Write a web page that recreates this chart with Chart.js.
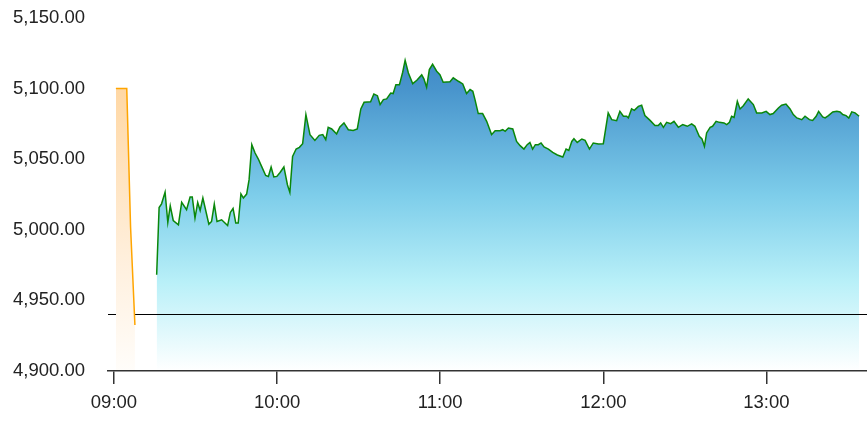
<!DOCTYPE html>
<html>
<head>
<meta charset="utf-8">
<script src="https://cdn.jsdelivr.net/npm/chart.js@4/dist/chart.umd.min.js"></script>
<style>
  html, body { margin: 0; padding: 0; background: #fff; }
  #wrap { width: 867px; height: 432px; position: relative; }
</style>
</head>
<body>
<div id="wrap"><canvas id="chart"></canvas></div>
<script>
// x values are minutes after 09:00
const X_MIN = -2.2, X_MAX = 277;
const X_TICKS = [0, 60, 120, 180, 240];
const X_TICK_LABELS = ['09:00', '10:00', '11:00', '12:00', '13:00'];
const Y_TICKS = [4900, 4950, 5000, 5050, 5100, 5150];
const REF_LEVEL = 4940;

// pre-open (orange)
const PRE_MINUTES = [0.7, 4.7, 6.1, 7.7];
const PRE_PRICES  = [5100, 5100, 5002, 4932.6];

// session (green)
const MINUTES = [
  15.7,16.6,17.5,18.8,19.8,20.7,21.8,23.7,24.9,26.7,28.0,28.8,29.8,30.8,31.7,32.7,34.9,35.9,36.9,37.9,
  39.6,41.8,42.8,43.8,44.8,45.7,46.7,47.6,48.8,49.7,50.7,51.9,53.1,54.3,55.8,56.8,57.8,58.8,59.9,61.1,
  62.5,63.8,64.7,65.7,67.0,68.2,69.4,70.6,72.1,73.9,75.5,76.8,77.9,78.8,80.1,81.9,83.1,84.6,86.2,88.0,
  89.5,90.8,92.0,94.4,95.6,96.9,97.9,99.1,100.3,101.8,102.7,103.7,105.0,106.2,107.1,108.3,109.9,111.4,113.2,114.0,
  115.0,116.0,117.2,118.7,119.9,121.1,123.6,124.8,126.7,128.3,129.7,131.0,132.0,132.8,134.0,135.6,137.1,138.9,140.2,142.0,
  143.0,143.9,145.1,146.7,148.1,149.4,150.8,152.0,153.0,154.0,155.0,156.1,157.1,158.2,159.8,161.4,163.1,165.1,166.3,167.3,
  168.4,169.2,170.4,172.1,173.3,174.9,176.3,178.2,180.0,181.8,183.1,184.9,186.1,187.4,188.6,189.2,190.4,191.4,192.9,194.1,
  195.3,197.2,199.0,200.2,201.1,202.1,203.3,204.8,206.0,207.6,209.2,210.9,212.5,213.7,215.3,216.3,217.2,218.0,219.3,220.2,
  221.5,222.7,224.4,225.4,226.4,227.2,228.1,229.3,230.3,231.5,233.3,235.2,236.4,238.3,239.9,241.3,242.5,244.4,245.6,247.2,
  248.7,249.9,251.2,253.0,254.2,255.8,257.0,258.3,259.2,260.7,261.6,262.8,264.4,265.9,267.1,268.1,269.3,270.3,271.4,272.6,
  274.1
];
const PRICES = [
  4968.1,5015.8,5018.4,5026.7,5005.2,5017.0,5006.6,5003.5,5019.4,5014.2,5023.2,5023.2,5008.3,5019.4,5013.7,5022.5,5004.0,5005.9,5018.2,5005.9,
  5007.1,5003.0,5012.3,5015.1,5004.8,5004.8,5025.5,5022.5,5025.3,5035.5,5060.3,5054.4,5050.1,5044.9,5038.5,5037.8,5044.5,5037.4,5037.8,5040.6,
  5044.5,5031.9,5026.5,5052.0,5057.2,5058.4,5061.0,5081.6,5067.4,5063.3,5066.9,5067.4,5063.8,5072.6,5071.4,5067.9,5072.8,5075.7,5070.9,5070.4,
  5071.4,5085.6,5090.3,5090.6,5096.2,5095.0,5088.7,5092.2,5092.7,5096.9,5096.5,5102.8,5102.8,5111.6,5120.1,5111.1,5103.5,5105.9,5109.7,5106.9,
  5100.9,5113.5,5117.2,5112.3,5109.9,5104.5,5104.8,5107.6,5105.2,5103.3,5096.5,5099.3,5098.1,5092.2,5082.3,5082.3,5076.8,5067.4,5070.2,5070.2,
  5070.9,5069.7,5072.1,5071.4,5062.6,5059.6,5057.2,5060.3,5061.9,5057.2,5060.3,5060.3,5061.5,5058.7,5057.2,5054.8,5053.0,5051.6,5057.2,5056.2,
  5062.6,5064.5,5061.9,5064.3,5063.3,5057.2,5061.5,5060.8,5061.0,5082.8,5078.0,5077.3,5083.9,5080.4,5080.4,5079.2,5085.6,5084.6,5087.4,5088.2,
  5080.9,5077.5,5073.8,5073.8,5075.7,5072.6,5076.1,5075.2,5076.8,5072.6,5074.5,5073.3,5075.0,5073.3,5066.2,5064.3,5059.1,5068.6,5072.6,5073.3,
  5076.8,5076.1,5075.7,5074.5,5076.1,5080.4,5079.6,5091.0,5085.6,5087.9,5092.7,5088.7,5082.8,5082.8,5083.9,5081.6,5082.3,5086.3,5088.2,5089.1,
  5085.6,5081.6,5079.2,5078.0,5080.4,5078.0,5077.5,5080.4,5083.9,5079.9,5079.2,5080.9,5083.5,5083.9,5083.5,5081.6,5080.9,5079.2,5083.5,5082.8,
  5080.4
];

const FONT = { family: '"Liberation Sans", Arial, sans-serif', size: 18.5 };

function vGradient(stops) {
  return (ctx) => {
    const { chart } = ctx;
    const area = chart.chartArea;
    if (!area) return null;
    const g = chart.ctx.createLinearGradient(0, area.top, 0, area.bottom);
    stops.forEach(([p, c]) => g.addColorStop(p, c));
    return g;
  };
}

const toPts = (xs, ys) => xs.map((x, i) => ({ x, y: ys[i] }));

new Chart(document.getElementById('chart'), {
  type: 'line',
  data: {
    datasets: [
      { label: 'pre', data: toPts(PRE_MINUTES, PRE_PRICES), order: 0,
        borderColor: '#ffa500', borderWidth: 1.5, pointRadius: 0, tension: 0, fill: 'start',
        backgroundColor: vGradient([[0, 'rgba(255,205,140,1)'], [0.25, 'rgba(255,218,170,1)'], [0.7, 'rgba(255,240,222,1)'], [1, 'rgba(255,253,250,1)']]) },
      { label: 'ref', data: [{ x: X_MIN, y: REF_LEVEL }, { x: X_MAX, y: REF_LEVEL }], order: 1,
        borderColor: '#000', borderWidth: 1.2, pointRadius: 0, fill: false },
      { label: 'price', data: toPts(MINUTES, PRICES), order: 2,
        borderColor: '#0a870a', borderWidth: 1.5, pointRadius: 0, tension: 0, fill: 'start',
        backgroundColor: vGradient([[0, 'rgb(50,120,192)'], [0.2, 'rgb(72,148,204)'], [0.5, 'rgb(125,205,234)'], [0.75, 'rgb(185,240,248)'], [1, 'rgb(255,255,255)']]) },
    ]
  },
  options: {
    responsive: true, maintainAspectRatio: false, animation: false,
    layout: { padding: { top: 18, right: 0, bottom: 0, left: 0 } },
    plugins: { legend: { display: false }, tooltip: { enabled: false } },
    scales: {
      x: {
        type: 'linear', min: X_MIN, max: X_MAX,
        afterBuildTicks: s => { s.ticks = X_TICKS.map(v => ({ value: v })); },
        afterFit: s => { s.height = 61; s.paddingLeft = 0; s.paddingRight = 0; },
        ticks: { font: FONT, color: '#222', padding: 8, maxRotation: 0,
          callback: v => X_TICK_LABELS[X_TICKS.indexOf(v)] },
        grid: { display: true, drawOnChartArea: false, drawTicks: true, tickLength: 13, color: '#333', lineWidth: 1.5 },
        border: { display: true, color: '#333', width: 1.5, z: 1 }
      },
      y: {
        min: Y_TICKS[0], max: Y_TICKS[Y_TICKS.length - 1],
        afterBuildTicks: s => { s.ticks = Y_TICKS.map(v => ({ value: v })); },
        afterFit: s => { s.width = 108; s.paddingTop = 0; s.paddingBottom = 0; },
        ticks: { font: FONT, color: '#222', padding: 23,
          callback: v => v.toLocaleString('en-US', { minimumFractionDigits: 2, maximumFractionDigits: 2 }) },
        grid: { display: false, drawTicks: false },
        border: { display: false }
      }
    }
  }
});
</script>
</body>
</html>
